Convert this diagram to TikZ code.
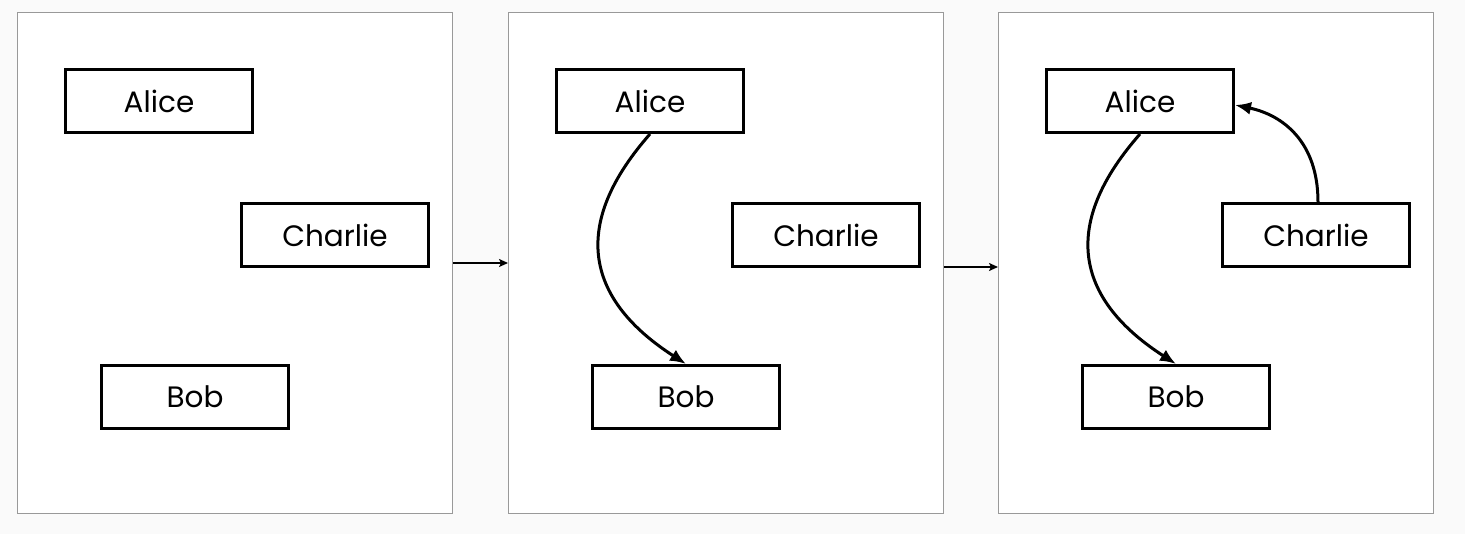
\documentclass[tikz,border=0pt]{standalone}
\usepackage{fontspec}
\setmainfont{Poppins}
\usetikzlibrary{arrows.meta,positioning}

\begin{document}
\begin{tikzpicture}[x=1pt,y=-1pt,
    panel/.style={draw=black!40,line width=1pt,fill=white,minimum width=435pt,minimum height=501pt,inner sep=0pt},
    person/.style={draw,line width=3pt,minimum width=187pt,minimum height=63pt,inner sep=0pt,font=\fontsize{29.5}{33}\selectfont},
    talk/.style={line width=3pt,-{Latex[length=16pt,width=13pt]}},
    nextstep/.style={line width=1.5pt,-{Stealth[length=9pt,width=8pt,inset=2pt]}}]
          \fill[black!2] (0,0) rectangle (1465,534);
          \useasboundingbox (0,0) rectangle (1465,534);
          % the three panels
          \node[panel] (p1) at (235,263) {};
          \node[panel] (p2) at (726,263) {};
          \node[panel] (p3) at (1216,263) {};
          % first panel: nobody talks yet
          \node[person] (a1) at (159,101) {Alice};
          \node[person] (c1) at (335,235) {Charlie};
          \node[person] (b1) at (195,397) {Bob};
          % second panel
          \node[person] (a2) at (650,101) {Alice};
          \node[person] (c2) at (826,235) {Charlie};
          \node[person] (b2) at (686,397) {Bob};
          \draw[talk] (a2.south) .. controls +(-88,100) and +(-90,-58) .. (b2.north);
          % third panel
          \node[person] (a3) at (1140,101) {Alice};
          \node[person] (c3) at (1316,235) {Charlie};
          \node[person] (b3) at (1176,397) {Bob};
          \draw[talk] (a3.south) .. controls +(-88,100) and +(-90,-58) .. (b3.north);
          \draw[talk] ([xshift=2pt]c3.north) .. controls +(0,-60) and +(48,10) .. ([yshift=-4pt]a3.east);
          % steps
          \path[nextstep] (p1.east) edge (p2.west);
          \path[nextstep] ([yshift=-4pt]p2.east) edge ([yshift=-4pt]p3.west);
        \end{tikzpicture}
\end{document}
